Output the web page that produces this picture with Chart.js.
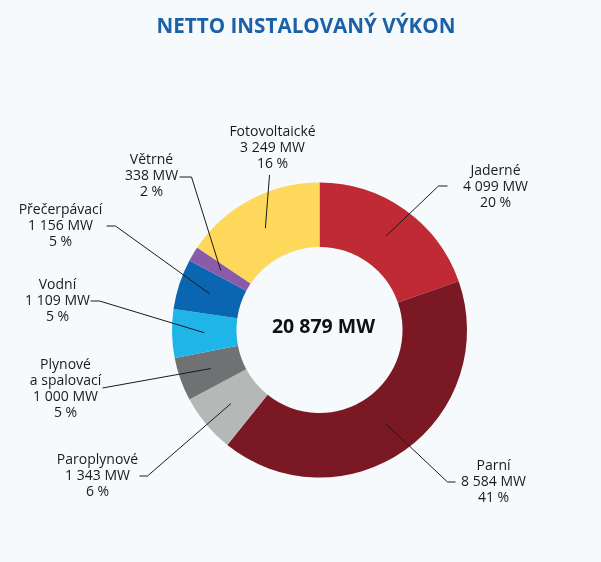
<!DOCTYPE html>
<html>
<head>
<meta charset="utf-8">
<script src="https://cdn.jsdelivr.net/npm/chart.js@4"></script>
<style>
  html, body { margin: 0; padding: 0; background: #f7fafd; }
  #wrap { width: 601px; height: 562px; position: relative; }
</style>
</head>
<body>
<div id="wrap"><canvas id="c" width="601" height="562"></canvas></div>
<script>
// data, clockwise from 12 o'clock
var categories = ['Jaderné', 'Parní', 'Paroplynové', 'Plynové\na spalovací', 'Vodní', 'Přečerpávací', 'Větrné', 'Fotovoltaické']
var capacityMW = [4099, 8584, 1343, 1000, 1109, 1156, 338, 3249]
var sharePct   = [20, 41, 6, 5, 5, 5, 2, 16]
var totalMW    = 20879

var colors = ['#bf2a34', '#7a1824', '#b6b8b7', '#6f7173', '#20b5e9', '#0b66b2', '#8a5ba8', '#fdd85a']

// label placement relative to chart centre: text (first line), tick outer end, tick elbow
var labelPos = [
  { tx: 176, ty: -159, ax: 128, ay: -144, bx: 119, by: -144 },
  { tx: 174, ty: 136,  ax: 136, ay: 152,  bx: 128, by: 152 },
  { tx: -222, ty: 130, ax: -180, ay: 146, bx: -172, by: 146 },
  { tx: -254, ty: 35,  ax: -217, ay: 58,  bx: -217, by: 58 },
  { tx: -262, ty: -45, ax: -229, ay: -29, bx: -220, by: -29 },
  { tx: -259, ty: -120, ax: -213, ay: -104, bx: -204, by: -104 },
  { tx: -168, ty: -170, ax: -140, ay: -153, bx: -128, by: -153 },
  { tx: -47, ty: -198, ax: -50, ay: -155, bx: -50, by: -155 }
]

function fmt(n) {
  return String(n).replace(/\B(?=(\d{3})+(?!\d))/g, ' ')
}

var labelsPlugin = {
  id: 'labels',
  afterDraw: function(chart) {
    var ctx = chart.ctx
    var meta = chart.getDatasetMeta(0)
    var cx = meta.data[0].x, cy = meta.data[0].y

    ctx.save()
    // title
    ctx.fillStyle = '#1a62a8'
    ctx.font = 'bold 22px "Open Sans"'
    ctx.textAlign = 'center'
    ctx.textBaseline = 'middle'
    var title = 'NETTO INSTALOVANÝ VÝKON'
    var tw = ctx.measureText(title).width
    var sx = Math.min(1, 299 / tw)
    ctx.translate(306, 27)
    ctx.scale(sx, 1)
    ctx.fillText(title, 0, 0)
    ctx.restore()

    ctx.save()
    // centre total
    ctx.fillStyle = '#111'
    ctx.font = 'bold 19.5px "Open Sans"'
    ctx.textAlign = 'center'
    ctx.textBaseline = 'middle'
    ctx.fillText(fmt(totalMW) + ' MW', cx + 4, cy - 3)

    // slice labels and leaders
    ctx.strokeStyle = '#1a1a1a'
    ctx.lineWidth = 1
    ctx.font = '14px "Open Sans"'
    meta.data.forEach(function(arc, i) {
      var p = labelPos[i]
      var c = arc.getCenterPoint()
      ctx.beginPath()
      ctx.moveTo(cx + p.ax, cy + p.ay)
      ctx.lineTo(cx + p.bx, cy + p.by)
      ctx.lineTo(c.x, c.y)
      ctx.stroke()

      var lines = categories[i].split('\n')
      lines.push(fmt(capacityMW[i]) + ' MW')
      lines.push(sharePct[i] + ' %')
      ctx.fillStyle = '#1a1a1a'
      lines.forEach(function(t, k) {
        ctx.fillText(t, cx + p.tx, cy + p.ty + k * 16)
      })
    })
    ctx.restore()
  }
}

new Chart(document.getElementById('c'), {
  type: 'doughnut',
  data: {
    labels: categories,
    datasets: [{
      data: capacityMW,
      backgroundColor: colors,
      borderWidth: 0,
      hoverOffset: 0
    }]
  },
  options: {
    responsive: false,
    animation: false,
    cutout: '56.3%',
    layout: { padding: { left: 172, right: 134, top: 182.5, bottom: 84.5 } },
    plugins: {
      legend: { display: false },
      tooltip: { enabled: false },
      title: { display: false }
    }
  },
  plugins: [labelsPlugin]
})
</script>
</body>
</html>
